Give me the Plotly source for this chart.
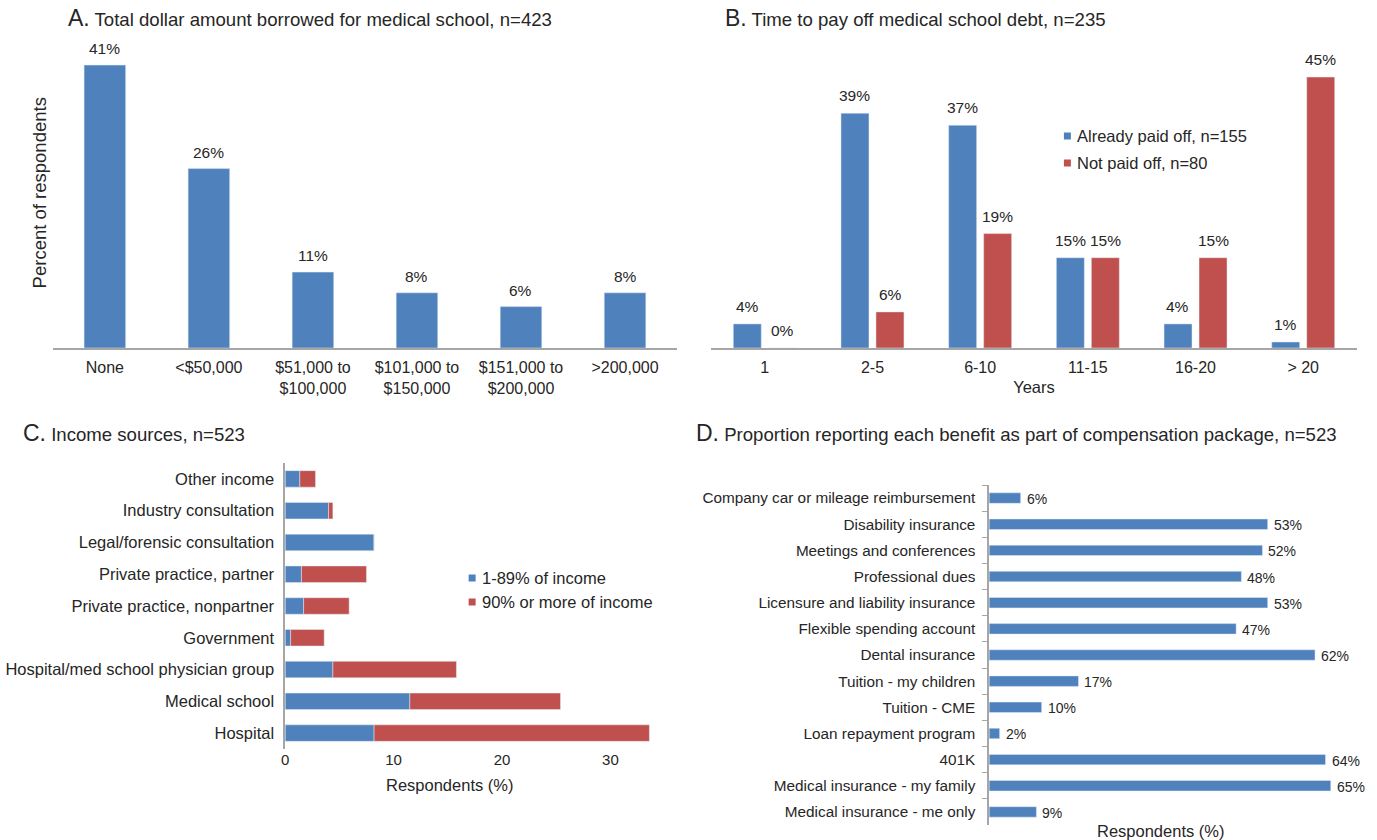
import plotly.graph_objects as go

# ---- Data ----
borrow_cats = ["None", "<$50,000", "$51,000 to<br>$100,000", "$101,000 to<br>$150,000",
               "$151,000 to<br>$200,000", ">200,000"]
borrow_pct = [41, 26, 11, 8, 6, 8]

payoff_cats = ["1", "2-5", "6-10", "11-15", "16-20", "> 20"]
paid_off = [4, 39, 37, 15, 4, 1]
not_paid_off = [0, 6, 19, 15, 15, 45]

income_cats = ["Other income", "Industry consultation", "Legal/forensic consultation",
               "Private practice, partner", "Private practice, nonpartner", "Government",
               "Hospital/med school physician group", "Medical school", "Hospital"]
income_partial = [1.35, 4.0, 8.2, 1.5, 1.7, 0.5, 4.4, 11.5, 8.2]
income_major = [1.45, 0.4, 0.0, 6.0, 4.2, 3.1, 11.4, 13.9, 25.4]

benefit_cats = ["Company car or mileage reimbursement", "Disability insurance",
                "Meetings and conferences", "Professional dues",
                "Licensure and liability insurance", "Flexible spending account",
                "Dental insurance", "Tuition - my children", "Tuition - CME",
                "Loan repayment program", "401K", "Medical insurance - my family",
                "Medical insurance - me only"]
benefit_pct = [6, 53, 52, 48, 53, 47, 62, 17, 10, 2, 64, 65, 9]

# ---- Style ----
BLUE = "#4F81BD"
RED = "#C0504D"
TXT = "#262626"
AXIS = "#A6A6A6"
FONT = "Liberation Sans, Arial, sans-serif"

W, H = 1377, 840

# Panel B geometry (pixels) used for the grouped bars and their labels
B_LEFT, B_RIGHT = 709, 1357
B_GAP, B_GROUPGAP = 0.35, 0.2
B_SLOT = (B_RIGHT - B_LEFT) / len(payoff_cats) * (1 - B_GAP) / 2


def px_x(a, b):
    return [a / W, b / W]


def px_y(top, bottom):
    return [1 - bottom / H, 1 - top / H]


fig = go.Figure()

# A: amount borrowed
fig.add_trace(go.Bar(
    x=borrow_cats, y=borrow_pct, marker_color=BLUE, width=0.4,
    xaxis="x", yaxis="y", showlegend=False))

# B: time to pay off
fig.add_trace(go.Bar(
    x=payoff_cats, y=paid_off, name="Already paid off, n=155", marker_color=BLUE,
    xaxis="x2", yaxis="y2", showlegend=False, offsetgroup="b1"))
fig.add_trace(go.Bar(
    x=payoff_cats, y=not_paid_off, name="Not paid off, n=80", marker_color=RED,
    xaxis="x2", yaxis="y2", showlegend=False, offsetgroup="b2"))

# C: income sources (stacked in one slot)
fig.add_trace(go.Bar(
    y=income_cats, x=income_partial, orientation="h", name="1-89% of income",
    marker_color=BLUE, width=0.52, xaxis="x3", yaxis="y3", showlegend=False,
    offsetgroup="c"))
fig.add_trace(go.Bar(
    y=income_cats, x=income_major, orientation="h", name="90% or more of income",
    marker_color=RED, width=0.52, xaxis="x3", yaxis="y3", showlegend=False,
    offsetgroup="c", base=income_partial))

# D: benefits
fig.add_trace(go.Bar(
    y=benefit_cats, x=benefit_pct, orientation="h", marker_color=BLUE, width=0.4,
    xaxis="x4", yaxis="y4", showlegend=False))

fig.update_layout(
    width=W, height=H, margin=dict(l=0, r=0, t=0, b=0),
    paper_bgcolor="white", plot_bgcolor="white",
    font=dict(family=FONT, size=15, color=TXT), showlegend=False,
    barmode="group", bargap=B_GAP, bargroupgap=B_GROUPGAP,
    # A
    xaxis=dict(domain=px_x(49, 675), showline=True, linecolor=AXIS, linewidth=1.5,
               ticks="", tickfont=dict(size=16, color=TXT), anchor="y",
               ticklabelstandoff=4),
    yaxis=dict(domain=px_y(37.5, 348), range=[0, 45], showticklabels=False,
               showgrid=False, zeroline=False, anchor="x",
               title=dict(text="Percent of respondents", font=dict(size=18.5, color=TXT),
                          standoff=0)),
    # B
    xaxis2=dict(domain=px_x(B_LEFT, B_RIGHT), showline=True, linecolor=AXIS, linewidth=1.5,
                ticks="", tickfont=dict(size=16, color=TXT), anchor="y2",
                ticklabelstandoff=4, type="category",
                title=dict(text="Years", font=dict(size=16.5, color=TXT), standoff=6)),
    yaxis2=dict(domain=px_y(59, 348), range=[0, 48], showticklabels=False,
                showgrid=False, zeroline=False, anchor="x2"),
    # C
    xaxis3=dict(domain=px_x(282, 662.5), range=[0, 35], tickvals=[0, 10, 20, 30],
                showgrid=False, zeroline=False, showline=False, ticks="",
                tickfont=dict(size=15, color=TXT), anchor="y3"),
    yaxis3=dict(domain=px_y(463, 749), autorange="reversed", showline=True,
                linecolor=AXIS, linewidth=1.5, ticks="", anchor="x3",
                tickfont=dict(size=16.5, color=TXT), ticklabelstandoff=6),
    # D
    xaxis4=dict(domain=px_x(988, 1357), range=[0, 70], showticklabels=False,
                showgrid=False, zeroline=False, showline=False, ticks="", anchor="y4"),
    yaxis4=dict(domain=px_y(485, 825), autorange="reversed", showline=True,
                linecolor=AXIS, linewidth=1.5, ticks="outside", tickson="boundaries",
                ticklen=5, tickcolor=AXIS, anchor="x4",
                tickfont=dict(size=15.3, color=TXT), ticklabelstandoff=9),
)

# Value labels (category positions given by index)
label_font = dict(size=15.5, color=TXT, family=FONT)
for i, v in enumerate(borrow_pct):
    fig.add_annotation(x=i, y=v, xref="x", yref="y", text=f"{v}%", showarrow=False,
                       yanchor="bottom", yshift=6, font=label_font)
for values, shift in [(paid_off, -B_SLOT / 2), (not_paid_off, B_SLOT / 2)]:
    for i, v in enumerate(values):
        fig.add_annotation(x=i, y=v, xref="x2", yref="y2", text=f"{v}%", showarrow=False,
                           yanchor="bottom", yshift=7, xshift=shift, font=label_font)
for i, v in enumerate(benefit_pct):
    fig.add_annotation(x=v, y=i, xref="x4", yref="y4", text=f"{v}%", showarrow=False,
                       xanchor="left", xshift=4, yshift=-1,
                       font=dict(size=14, color=TXT, family=FONT))

# Panel titles
titles = [
    ("A.", "Total dollar amount borrowed for medical school, n=423", 62, 18),
    ("B.", "Time to pay off medical school debt, n=235", 721, 18),
    ("C.", "Income sources, n=523", 17, 433),
    ("D.", "Proportion reporting each benefit as part of compensation package, n=523", 692, 433),
]
for letter, text, x, y in titles:
    fig.add_annotation(
        text=f"<span style='font-size:23px'>{letter}</span> {text}",
        x=x / W, y=1 - y / H, xref="paper", yref="paper",
        xanchor="left", yanchor="middle", showarrow=False,
        font=dict(size=18.6, color=TXT, family=FONT))

# Axis titles placed as text
for text, x, y in [("Respondents (%)", 447, 785), ("Respondents (%)", 1160, 831)]:
    fig.add_annotation(text=text, x=x / W, y=1 - y / H, xref="paper", yref="paper",
                       xanchor="center", yanchor="middle", showarrow=False,
                       font=dict(size=16.5, color=TXT, family=FONT))

# Legends: small square key + label
legend_items = [
    ("Already paid off, n=155", BLUE, 1063, 136),
    ("Not paid off, n=80", RED, 1063, 163),
    ("1-89% of income", BLUE, 466, 578),
    ("90% or more of income", RED, 466, 602),
]
for label, color, x, y in legend_items:
    fig.add_shape(type="rect", xref="paper", yref="paper",
                  x0=x / W, x1=(x + 7) / W, y0=1 - (y + 3.5) / H, y1=1 - (y - 3.5) / H,
                  fillcolor=color, line=dict(width=0))
    fig.add_annotation(text=label, x=(x + 11) / W, y=1 - y / H, xref="paper", yref="paper",
                       xanchor="left", yanchor="middle", showarrow=False,
                       font=dict(size=16.5, color=TXT, family=FONT))

fig.write_html("out.html")
